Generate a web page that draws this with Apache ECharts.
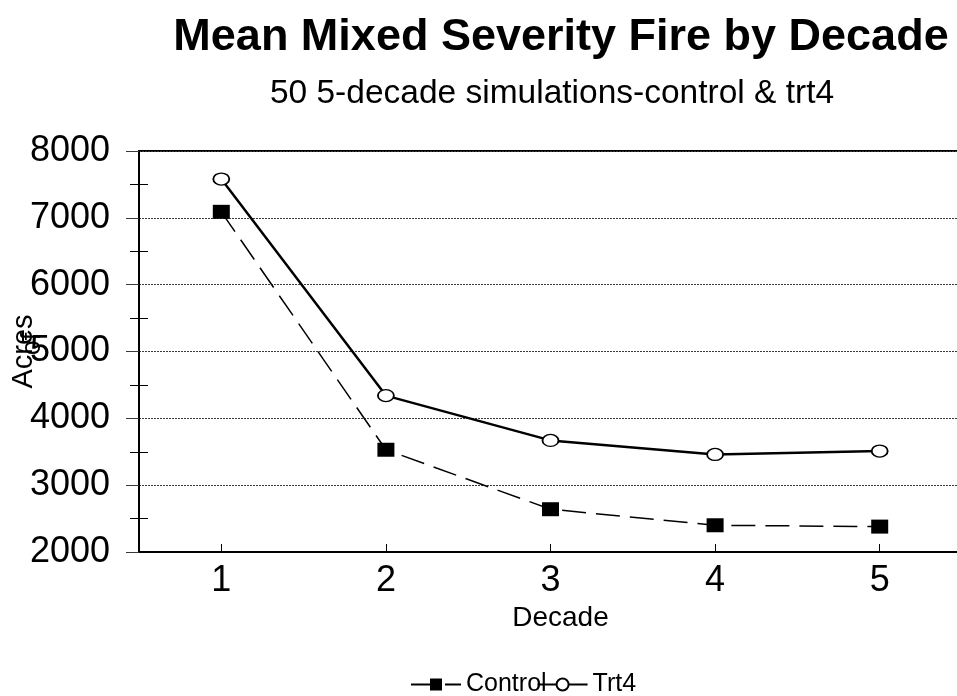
<!DOCTYPE html>
<html>
<head>
<meta charset="utf-8">
<script src="https://cdn.jsdelivr.net/npm/echarts@6/dist/echarts.min.js"></script>
<style>
  html, body { margin: 0; padding: 0; background: #fff; }
  #chart { width: 957px; height: 696px; }
</style>
</head>
<body>
<div id="chart"></div>
<script>
// Mean mixed severity fire (acres) per decade, 50 five-decade simulations
const decades = ['1', '2', '3', '4', '5'];
const controlAcres = [7090, 3530, 2640, 2400, 2380];
const trt4Acres = [7580, 4340, 3670, 3460, 3510];
const yTicks = { min: 2000, max: 8000, step: 1000 };

const FONT = '"Liberation Sans", Arial, Helvetica, sans-serif';

const chart = echarts.init(document.getElementById('chart'), null, { renderer: 'canvas' });

const gridLine = { color: '#3a3a3a', width: 1, type: [2, 1] };
const plainNumber = v => String(v);

chart.setOption({
  backgroundColor: '#ffffff',
  animation: false,
  title: [
    {
      text: 'Mean Mixed Severity Fire by Decade',
      left: 556, top: 10, textAlign: 'center',
      textStyle: { fontFamily: FONT, fontWeight: 'bold', fontSize: 45, color: '#000' }
    },
    {
      text: '50 5-decade simulations-control & trt4',
      left: 547, top: 72, textAlign: 'center',
      textStyle: { fontFamily: FONT, fontWeight: 'normal', fontSize: 33.5, color: '#000' }
    }
  ],
  grid: {
    left: 139, top: 151, width: 823, bottom: 144,
    outerBoundsMode: 'none', containLabel: false,
    show: true, borderColor: '#000', borderWidth: 2, backgroundColor: 'transparent'
  },
  legend: {
    bottom: -6, left: 405,
    itemWidth: 50, itemHeight: 15, itemGap: -10,
    textStyle: { fontFamily: FONT, fontSize: 25, color: '#000' },
    data: ['Control', 'Trt4']
  },
  xAxis: [
    {
      type: 'category', data: decades, boundaryGap: true,
      name: 'Decade', nameLocation: 'middle', nameGap: 52,
      nameTextStyle: { fontFamily: FONT, fontSize: 28, color: '#000', padding: [0, 0, 0, 20] },
      axisLine: { lineStyle: { color: '#000', width: 2 } },
      axisTick: { alignWithLabel: true, length: 8, lineStyle: { color: '#000', width: 1 } },
      axisLabel: { fontFamily: FONT, fontSize: 36, color: '#000', margin: 11 },
      splitLine: { show: false }
    },
    {
      type: 'category', data: decades, boundaryGap: true, position: 'bottom',
      axisLine: { show: false },
      axisTick: { show: true, inside: true, alignWithLabel: true, length: 8, lineStyle: { color: '#000', width: 1 } },
      axisLabel: { show: false },
      splitLine: { show: false }
    }
  ],
  yAxis: [
    {
      type: 'value', min: yTicks.min, max: yTicks.max, interval: yTicks.step,
      name: 'Acres', nameLocation: 'middle', nameGap: 101, nameRotate: 90,
      nameMoveOverlap: false,
      nameTextStyle: { fontFamily: FONT, fontSize: 29, color: '#000' },
      axisLine: { show: true, lineStyle: { color: '#000', width: 2 } },
      axisTick: { show: true, length: 13, lineStyle: { color: '#3a3a3a', width: 1 } },
      minorTick: { show: true, splitNumber: 2, length: 9, lineStyle: { color: '#000', width: 1 } },
      axisLabel: { fontFamily: FONT, fontSize: 36, color: '#000', margin: 29, formatter: plainNumber },
      splitLine: { show: true, lineStyle: gridLine }
    },
    {
      type: 'value', min: yTicks.min, max: yTicks.max, interval: yTicks.step, position: 'left',
      axisLine: { show: false },
      axisTick: { show: false, inside: true },
      minorTick: { show: true, splitNumber: 2, length: 9, lineStyle: { color: '#000', width: 1 } },
      axisLabel: { show: false },
      splitLine: { show: false }
    }
  ],
  graphic: [
    {
      type: 'text', x: 33, y: 344, rotation: Math.PI / 2,
      style: { text: 'of', font: '27px ' + FONT, fill: '#000', textAlign: 'center', textVerticalAlign: 'middle' }
    }
  ],
  series: [
    {
      name: 'Control', type: 'line', data: controlAcres,
      xAxisIndex: 0, yAxisIndex: 0,
      symbol: 'rect', symbolSize: [17, 14],
      itemStyle: { color: '#000', borderColor: '#000', borderWidth: 0 },
      lineStyle: { color: '#000', width: 1.5, type: [24, 10] },
      z: 3
    },
    {
      name: 'Trt4', type: 'line', data: trt4Acres,
      xAxisIndex: 0, yAxisIndex: 0,
      symbol: 'circle', symbolSize: [16, 12],
      itemStyle: { color: '#fff', borderColor: '#000', borderWidth: 1.6 },
      lineStyle: { color: '#000', width: 2.5, type: 'solid' },
      z: 4
    }
  ]
});
</script>
</body>
</html>
